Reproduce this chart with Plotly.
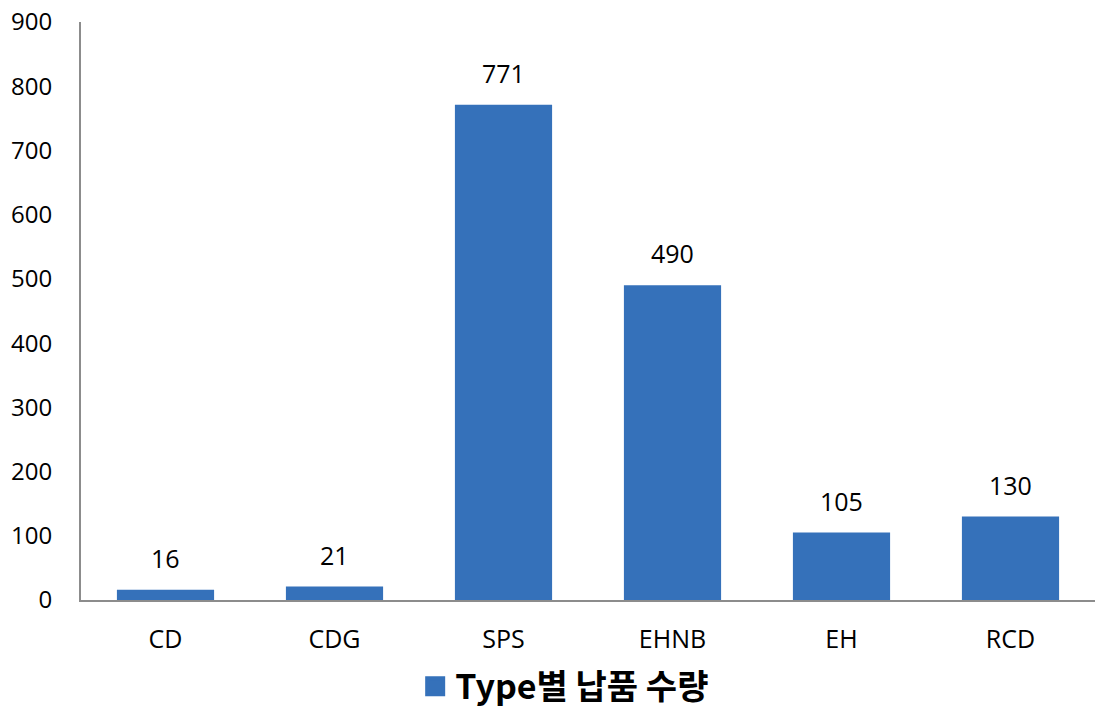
import plotly.graph_objects as go

categories = ["CD", "CDG", "SPS", "EHNB", "EH", "RCD"]
values = [16, 21, 771, 490, 105, 130]
series_name = "Type별 납품 수량"
y_ticks = [0, 100, 200, 300, 400, 500, 600, 700, 800, 900]

FONT = "Open Sans, Noto Sans CJK KR, sans-serif"
BAR_COLOR = "#3571BA"

fig = go.Figure()
fig.add_trace(go.Bar(
    x=categories, y=values, name=series_name,
    marker=dict(color=BAR_COLOR, line=dict(width=0)),
    showlegend=False,
))
# legend entry with a larger square swatch
fig.add_trace(go.Scatter(
    x=[None], y=[None], mode="markers", name=series_name,
    marker=dict(symbol="square", size=16, color=BAR_COLOR,
                line=dict(color=BAR_COLOR, width=4)),
    showlegend=True,
))

for c, v in zip(categories, values):
    fig.add_annotation(x=c, y=v, text=str(v), showarrow=False,
                       yanchor="middle", yshift=32,
                       font=dict(family=FONT, size=25, color="#000000"))

fig.update_layout(
    width=1095, height=717,
    margin=dict(l=81, r=0, t=22, b=117, autoexpand=False),
    paper_bgcolor="white", plot_bgcolor="white",
    bargap=0.425,
    font=dict(family=FONT, size=22, color="#000000"),
    legend=dict(orientation="h", x=0.477, xanchor="center", y=-0.2, yanchor="bottom",
                font=dict(family="Noto Sans CJK KR, sans-serif", size=34, color="#000000", weight="bold"),
                itemsizing="trace", itemwidth=30),
    xaxis=dict(showline=True, linecolor="#8C8C8C", linewidth=2, ticks="",
               showgrid=False, tickfont=dict(size=25), ticklabelstandoff=16),
    yaxis=dict(range=[0, 900], tickvals=y_ticks, showline=True, linecolor="#8C8C8C",
               linewidth=2, ticks="", showgrid=False, zeroline=False,
               tickfont=dict(size=24), ticklabelstandoff=22),
)

fig.write_html("out.html")
